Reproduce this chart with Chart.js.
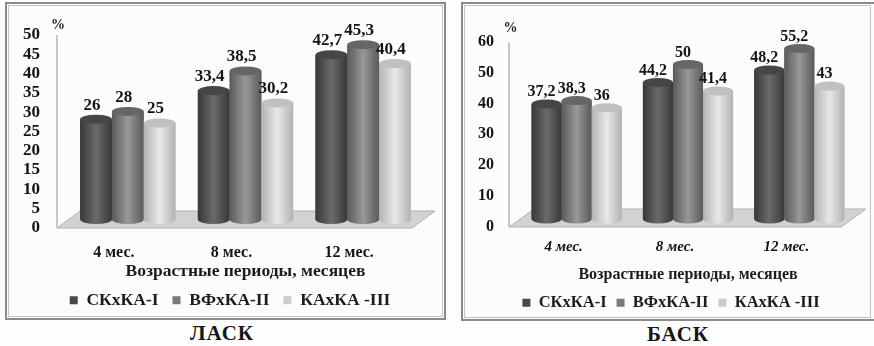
<!DOCTYPE html>
<html>
<head>
<meta charset="utf-8">
<script src="https://cdn.jsdelivr.net/npm/chart.js@4"></script>
<style>
  html, body { margin: 0; padding: 0; background: #fdfdfd; }
  body { width: 874px; height: 346px; position: relative; overflow: hidden; font-family: "Liberation Serif", serif; }
  .panel { position: absolute; box-sizing: border-box; border: 2px solid #8a8a8a; outline: 1px solid #c4c4c4; outline-offset: -4px; background: #fcfcfc; }
  #panelLeft { left: 5px; top: 2px; width: 441px; height: 318px; }
  #panelRight { left: 461px; top: 2px; width: 413px; height: 319px; border-right: none; }
  .panel canvas { position: absolute; left: 0; top: 0; }
  .caption { position: absolute; font-weight: bold; font-size: 21px; color: #161616; transform: translateX(-50%); letter-spacing: 1px; }
</style>
</head>
<body>
<div class="panel" id="panelLeft"><canvas id="chartLeft"></canvas></div>
<div class="panel" id="panelRight"><canvas id="chartRight"></canvas></div>
<div class="caption" style="left:222px; top:321px;">ЛАСК</div>
<div class="caption" style="left:678px; top:322px;">БАСК</div>

<script>
const categories = ['4 мес.', '8 мес.', '12 мес.'];
const seriesNames = ['СКхКА-I', 'ВФхКА-II', 'КАхКА -III'];

// ЛАСК
const laskSk = [26, 33.4, 42.7];
const laskVf = [28, 38.5, 45.3];
const laskKa = [25, 30.2, 40.4];
const laskTicks = [0, 5, 10, 15, 20, 25, 30, 35, 40, 45, 50];

// БАСК
const baskSk = [37.2, 44.2, 48.2];
const baskVf = [38.3, 50, 55.2];
const baskKa = [36, 41.4, 43];
const baskTicks = [0, 10, 20, 30, 40, 50, 60];

const axisTitle = 'Возрастные периоды, месяцев';

// flat colour (legend), then cylinder edge / middle / top cap
const shades = [
    { flat: '#484848', edge: '#383838', mid: '#6a6a6a', cap: '#464646' },
    { flat: '#7a7a7a', edge: '#5a5a5a', mid: '#989898', cap: '#666666' },
    { flat: '#cccccc', edge: '#b2b2b2', mid: '#e8e8e8', cap: '#c0c0c0' }
];

const serif = 'Liberation Serif';

// draws the floor, axis line and the cylinders over the plain bars
const cylinderPlugin = {
    id: 'cylinders',
    afterLayout(chart, args, opts) {
        // legend is centred on the plot in the original, not on the canvas
        chart.legend.left += opts.legendShift;
        chart.legend.right += opts.legendShift;
    },
    beforeDatasetsDraw(chart, args, opts) {
        const ctx = chart.ctx, a = chart.chartArea;
        const left = a.left - opts.axisGap;
        ctx.save();
        ctx.fillStyle = '#d2d2d2';
        ctx.strokeStyle = '#b0b0b0';
        ctx.beginPath();
        ctx.moveTo(left, a.bottom);
        ctx.lineTo(left + opts.depthX, a.bottom - opts.depthY);
        ctx.lineTo(a.right + opts.floorOver, a.bottom - opts.depthY);
        ctx.lineTo(a.right + opts.floorOver - opts.depthX, a.bottom);
        ctx.closePath();
        ctx.fill();
        ctx.stroke();
        ctx.strokeStyle = '#b5b5b5';
        ctx.lineWidth = 1.5;
        ctx.beginPath();
        ctx.moveTo(left, a.top + opts.axisTop);
        ctx.lineTo(left, a.bottom);
        ctx.stroke();
        ctx.restore();
    },
    afterDatasetsDraw(chart, args, opts) {
        const ctx = chart.ctx;
        ctx.save();
        chart.data.datasets.forEach((ds, i) => {
            const s = shades[i];
            chart.getDatasetMeta(i).data.forEach((bar, j) => {
                const x0 = bar.x - bar.width / 2, x1 = bar.x + bar.width / 2;
                const rx = bar.width / 2, ry = opts.capHeight;
                const g = ctx.createLinearGradient(x0, 0, x1, 0);
                g.addColorStop(0, s.edge);
                g.addColorStop(0.5, s.mid);
                g.addColorStop(1, s.edge);
                ctx.fillStyle = g;
                ctx.beginPath();
                ctx.moveTo(x0, bar.y);
                ctx.lineTo(x0, bar.base);
                ctx.ellipse(bar.x, bar.base, rx, ry, 0, Math.PI, 0, true);
                ctx.lineTo(x1, bar.y);
                ctx.closePath();
                ctx.fill();
                ctx.fillStyle = s.cap;
                ctx.beginPath();
                ctx.ellipse(bar.x, bar.y, rx, ry, 0, 0, Math.PI * 2);
                ctx.fill();
                // value label, comma decimals like the original
                ctx.fillStyle = '#141414';
                ctx.font = 'bold ' + opts.labelSize + 'px "' + serif + '"';
                ctx.textAlign = 'center';
                ctx.textBaseline = 'middle';
                ctx.fillText(String(ds.data[j]).replace('.', ','), bar.x - opts.labelDx, bar.y - opts.labelDy);
            });
        });
        // the % sign above the value axis
        ctx.fillStyle = '#222222';
        ctx.font = 'bold 14px "' + serif + '"';
        ctx.textAlign = 'center';
        ctx.textBaseline = 'middle';
        ctx.fillText('%', chart.chartArea.left + opts.percentX, chart.chartArea.top + opts.percentY);
        ctx.restore();
    }
};

function drawPanel(id, w, h, sk, vf, ka, ticks, cfg) {
    const canvas = document.getElementById(id);
    canvas.width = w;
    canvas.height = h;
    const values = [sk, vf, ka];
    new Chart(canvas, {
        type: 'bar',
        data: {
            labels: categories,
            datasets: seriesNames.map((name, i) => ({
                label: name,
                data: values[i],
                yAxisID: 'yBars',
                backgroundColor: shades[i].flat,
                borderWidth: 0
            }))
        },
        options: {
            responsive: false,
            animation: false,
            events: [],
            layout: { padding: cfg.padding },
            datasets: { bar: { categoryPercentage: 0.81, barPercentage: 1 } },
            plugins: {
                tooltip: { enabled: false },
                legend: {
                    position: 'bottom',
                    labels: {
                        boxWidth: 8,
                        boxHeight: 8,
                        padding: cfg.legendGap,
                        color: '#1c1c1c',
                        font: { family: serif, size: cfg.legendSize, weight: 'bold' }
                    }
                },
                cylinders: cfg.cyl
            },
            scales: {
                x: {
                    afterFit: ax => { ax.height = cfg.xHeight; },
                    grid: { display: false },
                    border: { display: false },
                    ticks: {
                        color: '#141414',
                        padding: cfg.catPad,
                        labelOffset: cfg.labelOffset,
                        maxRotation: 0,
                        font: { family: serif, size: cfg.catSize, weight: 'bold', style: cfg.catStyle }
                    },
                    title: {
                        display: true,
                        text: axisTitle,
                        color: '#1c1c1c',
                        padding: cfg.titlePad,
                        font: { family: serif, size: cfg.titleSize, weight: 'bold' }
                    }
                },
                // visible axis: sits on the front edge of the floor
                y: {
                    min: 0,
                    max: cfg.axisMax,
                    afterBuildTicks: ax => { ax.ticks = ticks.map(v => ({ value: v })); },
                    afterFit: ax => {
                        ax.width = cfg.axisWidth;
                        // tick padding would otherwise push the plot top down
                        ax.paddingTop = 0;
                        ax.paddingBottom = 0;
                    },
                    grid: { display: false },
                    border: { display: false },
                    ticks: {
                        autoSkip: false,
                        color: '#141414',
                        padding: cfg.tickPad,
                        font: { family: serif, size: cfg.tickSize, weight: 'bold' }
                    }
                },
                // hidden axis for the bars: zero is on the back of the floor
                yBars: {
                    display: false,
                    min: cfg.barsMin,
                    max: cfg.barsMax
                }
            }
        },
        plugins: [cylinderPlugin]
    });
}

drawPanel('chartLeft', 437, 315, laskSk, laskVf, laskKa, laskTicks, {
    padding: { left: 0, right: 22, top: 25, bottom: 0 },
    axisMax: 51.55,
    barsMin: -2.2,
    barsMax: 49.35,
    axisWidth: 62,
    tickPad: 21,
    tickSize: 17,
    catPad: 7,
    catSize: 16,
    catStyle: 'normal',
    labelOffset: -14,
    xHeight: 49.5,
    titleSize: 17.5,
    titlePad: { top: 1, bottom: -4.5 },
    legendGap: 14,
    legendSize: 17.5,
    cyl: { legendShift: 15.5, axisGap: 12, axisTop: 6, depthX: 23, depthY: 17, floorOver: 13, capHeight: 4.5, labelSize: 17, labelDx: 4, labelDy: 14, percentX: -11, percentY: -4 }
});

drawPanel('chartRight', 411, 317, baskSk, baskVf, baskKa, baskTicks, {
    padding: { left: 0, right: 19, top: 30.5, bottom: 0 },
    axisMax: 62.3,
    barsMin: -2.6,
    barsMax: 59.7,
    axisWidth: 58,
    tickPad: 19,
    tickSize: 16,
    catPad: 3,
    catSize: 15,
    catStyle: 'italic',
    labelOffset: -13,
    xHeight: 57.5,
    titleSize: 16,
    titlePad: { top: 1, bottom: 0.5 },
    legendGap: 10,
    legendSize: 16.5,
    cyl: { legendShift: 12, axisGap: 12, axisTop: 8, depthX: 25, depthY: 18, floorOver: 11, capHeight: 4.5, labelSize: 16, labelDx: 5, labelDy: 12, percentX: -10.5, percentY: -6.5 }
});
</script>
</body>
</html>
